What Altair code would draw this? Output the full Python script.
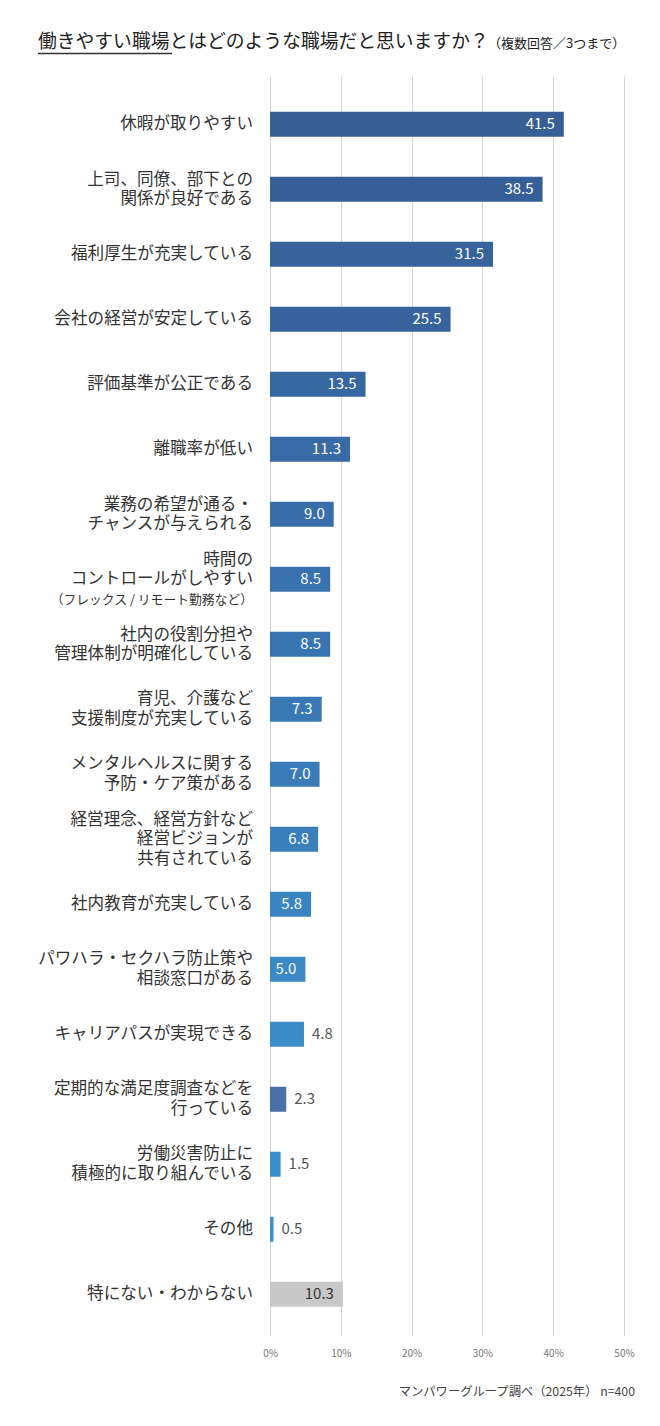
import altair as alt
import pandas as pd

FONT = "Noto Sans CJK JP"

labels = [
    "休暇が取りやすい",
    "上司、同僚、部下との\n関係が良好である",
    "福利厚生が充実している",
    "会社の経営が安定している",
    "評価基準が公正である",
    "離職率が低い",
    "業務の希望が通る・\nチャンスが与えられる",
    "時間の\nコントロールがしやすい",
    "社内の役割分担や\n管理体制が明確化している",
    "育児、介護など\n支援制度が充実している",
    "メンタルヘルスに関する\n予防・ケア策がある",
    "経営理念、経営方針など\n経営ビジョンが\n共有されている",
    "社内教育が充実している",
    "パワハラ・セクハラ防止策や\n相談窓口がある",
    "キャリアパスが実現できる",
    "定期的な満足度調査などを\n行っている",
    "労働災害防止に\n積極的に取り組んでいる",
    "その他",
    "特にない・わからない",
]
notes = ["", "", "", "", "", "", "", "（フレックス / リモート勤務など）",
         "", "", "", "", "", "", "", "", "", "", ""]
values = [41.5, 38.5, 31.5, 25.5, 13.5, 11.3, 9.0, 8.5, 8.5, 7.3, 7.0, 6.8,
          5.8, 5.0, 4.8, 2.3, 1.5, 0.5, 10.3]
bar_colors = ["#365f96", "#365f97", "#37629a", "#37649d", "#3767a1", "#386aa5",
              "#386ea9", "#3871ad", "#3874b1", "#3978b5", "#3a7cb9", "#3a80bd",
              "#3a84c1", "#3b88c5", "#3b8dca", "#4a70aa", "#3b8fcd", "#3b90cd",
              "#c8c8c8"]
label_pos = ["in"] * 14 + ["out"] * 4 + ["in"]
value_colors = ["#ffffff"] * 18 + ["#333333"]

df = pd.DataFrame({
    "key": [f"{i:02d}" for i in range(len(labels))],
    "label": labels,
    "note": notes,
    "value": values,
    "color": bar_colors,
    "pos": label_pos,
    "vcolor": value_colors,
})
# rows drawn with a note below use the note as an extra (third) line
df["lines"] = [l.count("\n") + 1 + (1 if n else 0) for l, n in zip(labels, notes)]

order = list(df["key"])
yscale = alt.Scale(domain=order, paddingInner=0.615, paddingOuter=0.5, align=0.55)
y = alt.Y("key:N", sort=order, scale=yscale, axis=None)

base = alt.Chart(df)

bars = base.mark_bar().encode(
    x=alt.X("value:Q", scale=alt.Scale(domain=[0, 50], nice=False),
            axis=alt.Axis(values=[0, 10, 20, 30, 40, 50], labelExpr="datum.value + '%'",
                          grid=True, gridColor="#d6d6d6", gridWidth=1,
                          domain=False, ticks=False, labelFont=FONT, labelFlush=False,
                          labelFontSize=10, labelColor="#777777", labelPadding=12,
                          title=None)),
    y=y,
    color=alt.Color("color:N", scale=None),
)

LH = 19.5
cat_layers = []
for n in (1, 2, 3):
    cat_layers.append(
        base.transform_filter(f"datum.lines == {n}").mark_text(
            align="right", baseline="middle", font=FONT, fontSize=16.6,
            color="#333333", lineBreak="\n", lineHeight=LH,
            dy=-(n - 1) / 2 * LH).encode(y=y, x=alt.value(-17), text="label:N"))

note_text = base.transform_filter("datum.note != ''").mark_text(
    align="right", baseline="middle", font=FONT, fontSize=12.8, color="#333333",
    dy=21).encode(y=y, x=alt.value(-17), text="note:N")

val_in = base.transform_filter("datum.pos == 'in'").mark_text(
    align="right", baseline="middle", font=FONT, fontSize=15,
    dx=-9).encode(
    y=y, x="value:Q", text=alt.Text("value:Q", format=".1f"),
    color=alt.Color("vcolor:N", scale=None))

val_out = base.transform_filter("datum.pos == 'out'").mark_text(
    align="left", baseline="middle", font=FONT, fontSize=15,
    dx=8, color="#555555").encode(
    y=y, x="value:Q", text=alt.Text("value:Q", format=".1f"))

one = alt.Chart(pd.DataFrame({"a": [0]}))
title = one.mark_text(text="働きやすい職場とはどのような職場だと思いますか？", align="left",
                      baseline="middle", font=FONT, fontSize=18.8, color="#222222").encode(
    x=alt.value(-232), y=alt.value(-34))
subtitle = one.mark_text(text="（複数回答／3つまで）", align="left", baseline="middle",
                         font=FONT, fontSize=13, color="#222222").encode(
    x=alt.value(218), y=alt.value(-32))
underline = one.mark_rule(color="#333333", strokeWidth=1.5).encode(
    x=alt.value(-232), x2=alt.value(-98), y=alt.value(-22.5))
source = one.mark_text(text="マンパワーグループ調べ（2025年） n=400", align="right",
                       baseline="middle", font=FONT, fontSize=12.3, color="#444444").encode(
    x=alt.value(365), y=alt.value(1316))

chart = alt.layer(bars, *cat_layers, note_text, val_in, val_out, title, subtitle,
                  underline, source).properties(
    width=354, height=1260,
    autosize=alt.AutoSizeParams(type="none"),
    padding={"left": 262, "top": 68, "right": 28, "bottom": 82},
).configure(background="#ffffff", view=alt.ViewConfig(stroke=None))

chart.save("out.html", embed_options={"renderer": "svg", "actions": False})
